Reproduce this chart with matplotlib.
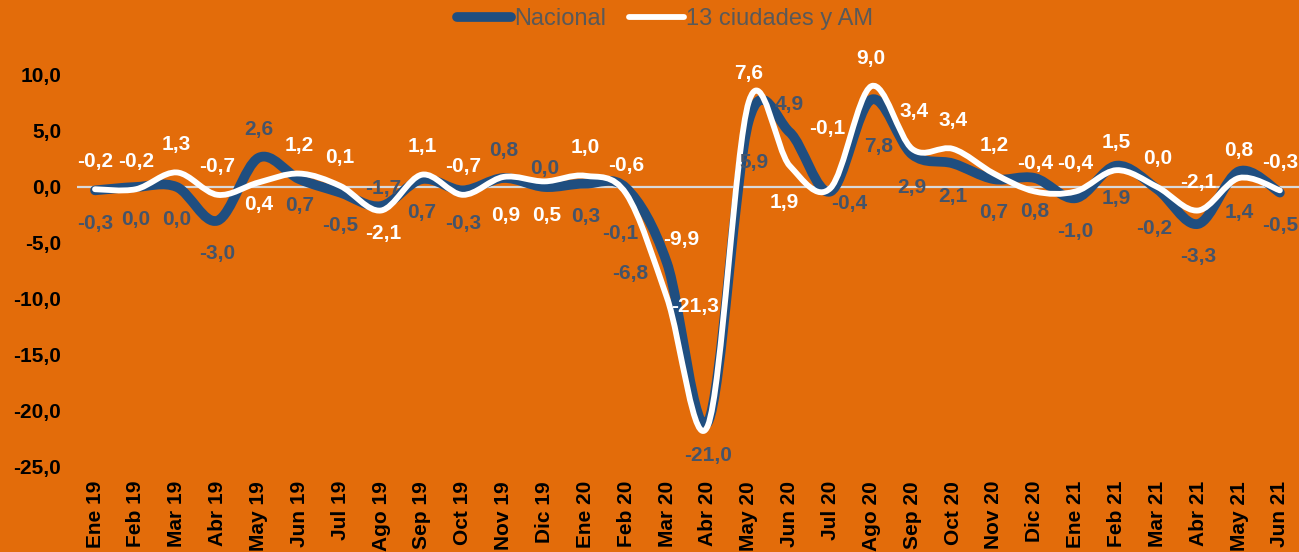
import numpy as np
import matplotlib
matplotlib.use("Agg")
import matplotlib.pyplot as plt
from matplotlib.path import Path
from matplotlib.patches import PathPatch
from matplotlib.lines import Line2D

# Data
meses = ["Ene 19", "Feb 19", "Mar 19", "Abr 19", "May 19", "Jun 19", "Jul 19", "Ago 19",
         "Sep 19", "Oct 19", "Nov 19", "Dic 19", "Ene 20", "Feb 20", "Mar 20", "Abr 20",
         "May 20", "Jun 20", "Jul 20", "Ago 20", "Sep 20", "Oct 20", "Nov 20", "Dic 20",
         "Ene 21", "Feb 21", "Mar 21", "Abr 21", "May 21", "Jun 21"]
nacional = [-0.3, 0.0, 0.0, -3.0, 2.6, 0.7, -0.5, -1.7, 0.7, -0.3, 0.8, 0.0, 0.3, -0.1,
            -6.8, -21.0, 5.9, 4.9, -0.4, 7.8, 2.9, 2.1, 0.7, 0.8, -1.0, 1.9, -0.2, -3.3, 1.4, -0.5]
ciudades = [-0.2, -0.2, 1.3, -0.7, 0.4, 1.2, 0.1, -2.1, 1.1, -0.7, 0.9, 0.5, 1.0, -0.6,
            -9.9, -21.3, 7.6, 1.9, -0.1, 9.0, 3.4, 3.4, 1.2, -0.4, -0.4, 1.5, 0.0, -2.1, 0.8, -0.3]

BG = "#E36C0A"
BLUE = "#1F4E80"
GRAY_TXT = "#44546A"
FS = 15

plt.rcParams["font.family"] = ["Liberation Sans", "DejaVu Sans"]


def smooth_path(y):
    # Excel-like smoothed line: cubic Bezier through every point
    x = np.arange(len(y), dtype=float)
    y = np.asarray(y, dtype=float)
    pts = np.column_stack([x, y])
    ext = np.vstack([pts[0], pts, pts[-1]])
    verts = [pts[0]]
    codes = [Path.MOVETO]
    for i in range(len(pts) - 1):
        p0, p1, p2, p3 = ext[i], ext[i + 1], ext[i + 2], ext[i + 3]
        c1 = p1 + (p2 - p0) / 6.0
        c2 = p2 - (p3 - p1) / 6.0
        verts += [c1, c2, p2]
        codes += [Path.CURVE4] * 3
    return Path(verts, codes)


fig = plt.figure(figsize=(12.99, 5.52), dpi=100, facecolor=BG)
ax = fig.add_axes([0.059, 0.154, 0.942, 0.8116])
ax.set_facecolor(BG)

ax.axhline(0, color="#D9D9D9", lw=1.6, zorder=1)

ax.add_patch(PathPatch(smooth_path(nacional), fill=False, edgecolor=BLUE, lw=7,
                       capstyle="round", joinstyle="round", zorder=2))
ax.add_patch(PathPatch(smooth_path(ciudades), fill=False, edgecolor="white", lw=4.2,
                       capstyle="round", joinstyle="round", zorder=3))

ax.set_xlim(-0.45, 29.5)
ax.set_ylim(-25, 15)
ax.set_yticks(np.arange(-25, 11, 5))
ax.set_yticklabels([f"{v:.1f}".replace(".", ",") for v in np.arange(-25, 11, 5)],
                   fontsize=FS, fontweight="bold", color="black")
ax.set_xticks(range(len(meses)))
ax.set_xticklabels(meses, rotation=90, fontsize=FS, fontweight="bold", color="black")
ax.tick_params(axis="y", length=0, pad=11)
ax.tick_params(axis="x", length=0, pad=10)
for s in ax.spines.values():
    s.set_visible(False)

# label offsets in pixels (dx, dy), dy positive = downward
sw = {4, 7, 10, 11, 17}  # months where Nacional label goes above
off_blue = {7: (2, -18), 11: (0, -18), 13: (-6, 45), 14: (-37, 10), 16: (5, 42),
            18: (19, 12), 19: (7, 47), 5: (0, 26), 26: (-3, 39), 28: (0, 41)}
off_white = {4: (0, 22), 7: (2, 23), 10: (2, 39), 11: (2, 34), 17: (-5, 37),
             14: (14, -58), 15: (-13, -119), 18: (-3, -60), 20: (2, -37)}

k = 0.72
for i in range(len(meses)):
    db = off_blue.get(i, (0, -28) if i in sw else (0, 33))
    dw = off_white.get(i, (0, -28))
    ax.annotate(f"{nacional[i]:.1f}".replace(".", ","), (i, nacional[i]),
                xytext=(db[0] * k, -db[1] * k), textcoords="offset points",
                ha="center", va="center", fontsize=FS, fontweight="bold",
                color=GRAY_TXT, zorder=5, annotation_clip=False)
    ax.annotate(f"{ciudades[i]:.1f}".replace(".", ","), (i, ciudades[i]),
                xytext=(dw[0] * k, -dw[1] * k), textcoords="offset points",
                ha="center", va="center", fontsize=FS, fontweight="bold",
                color="white", zorder=5, annotation_clip=False)

handles = [Line2D([], [], color=BLUE, lw=7, solid_capstyle="round"),
           Line2D([], [], color="white", lw=4.2, solid_capstyle="round")]
fig.legend(handles, ["Nacional", "13 ciudades y AM"], loc="center",
           bbox_to_anchor=(0.512, 0.966), ncol=2, frameon=False,
           handlelength=2.3, handletextpad=0.1, columnspacing=1.0,
           prop={"size": 17}, labelcolor="#595959")

fig.savefig("out.png", dpi=100, facecolor=BG)
